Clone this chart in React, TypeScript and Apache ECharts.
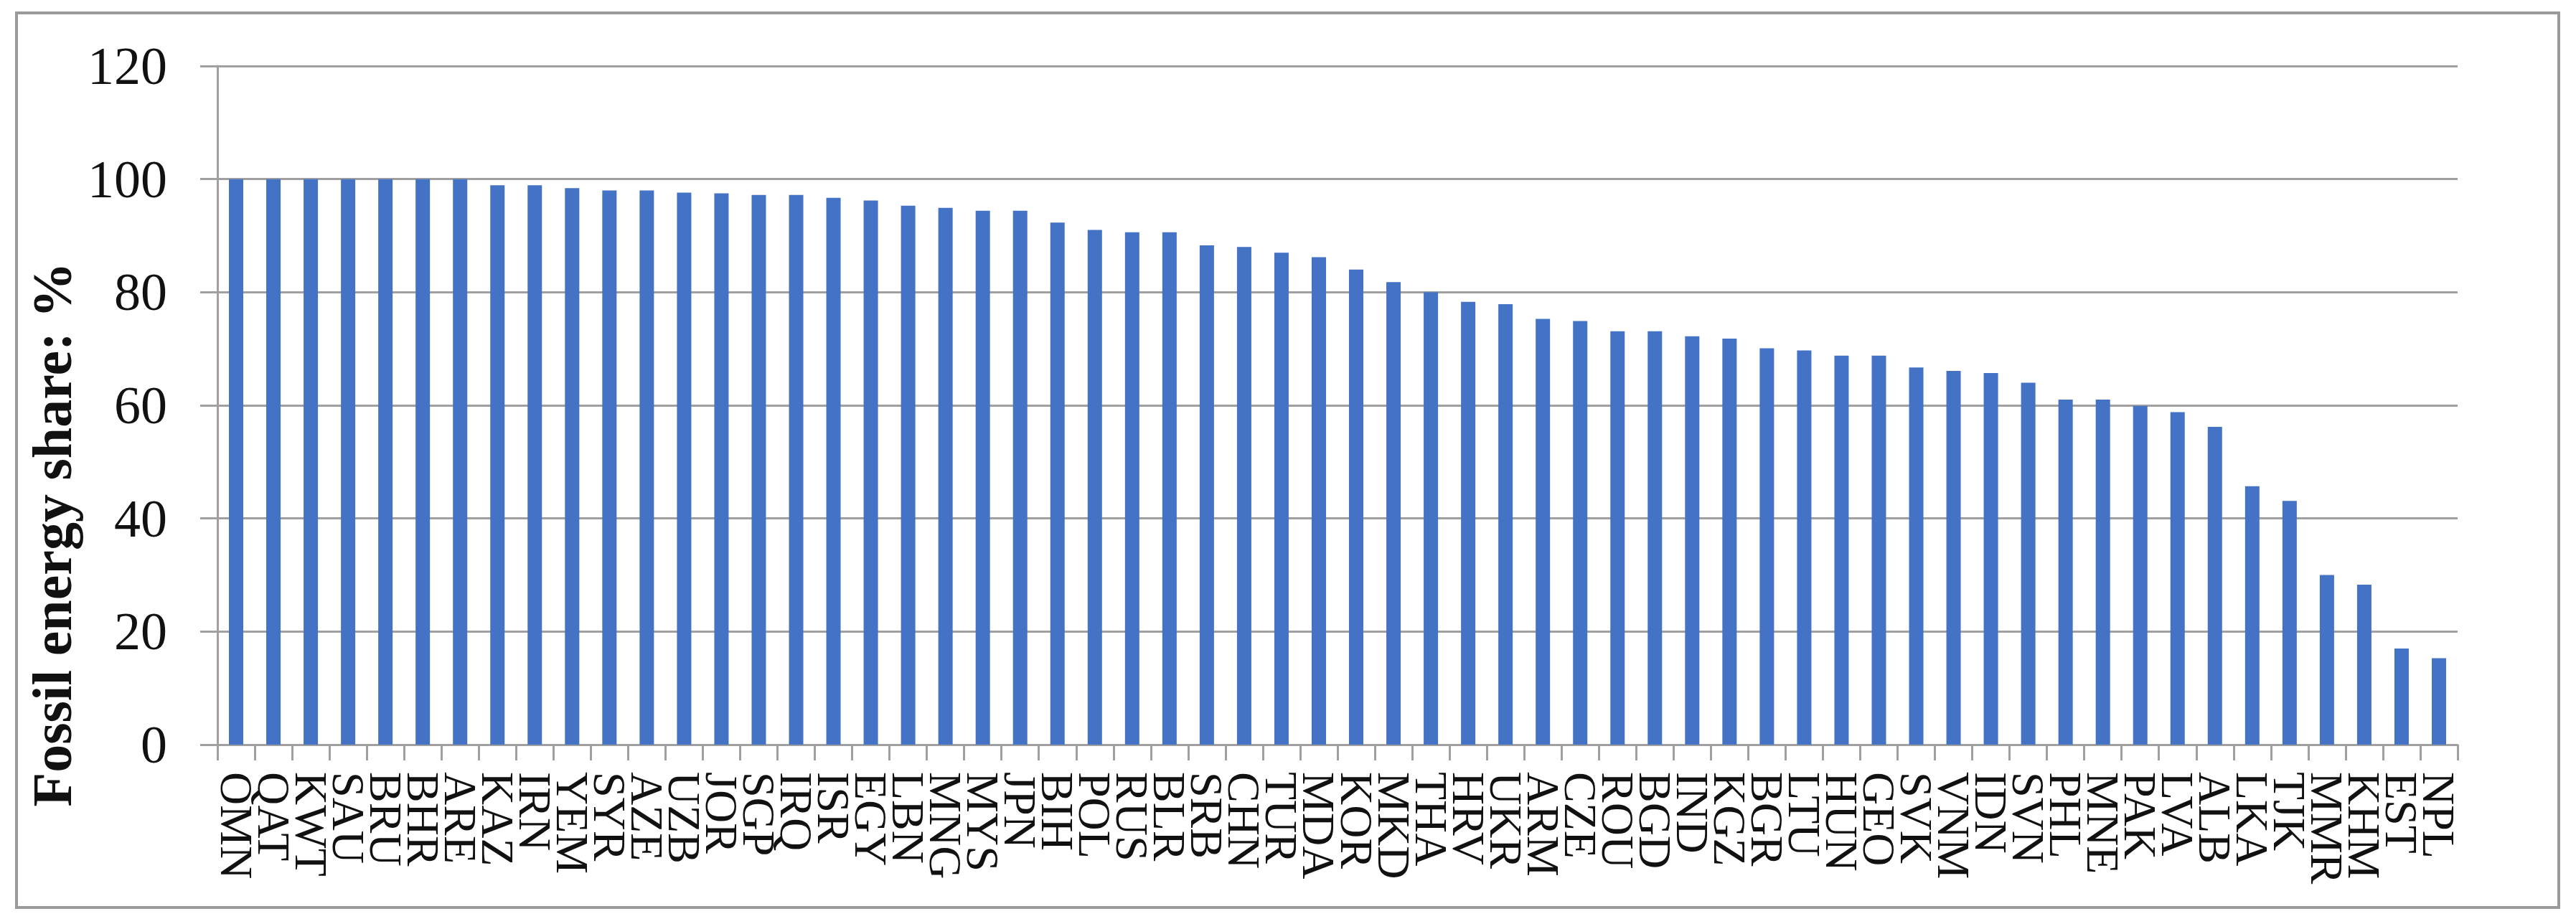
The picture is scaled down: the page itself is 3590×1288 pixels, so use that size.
import React, { useEffect, useRef } from "react";
import * as echarts from "echarts";

const categories = [
  "OMN", "QAT", "KWT", "SAU", "BRU", "BHR", "ARE", "KAZ", "IRN", "YEM",
  "SYR", "AZE", "UZB", "JOR", "SGP", "IRQ", "ISR", "EGY", "LBN", "MNG",
  "MYS", "JPN", "BIH", "POL", "RUS", "BLR", "SRB", "CHN", "TUR", "MDA",
  "KOR", "MKD", "THA", "HRV", "UKR", "ARM", "CZE", "ROU", "BGD", "IND",
  "KGZ", "BGR", "LTU", "HUN", "GEO", "SVK", "VNM", "IDN", "SVN", "PHL",
  "MNE", "PAK", "LVA", "ALB", "LKA", "TJK", "MMR", "KHM", "EST", "NPL",
];

const fossilShare = [
  100, 100, 100, 100, 100, 100, 100, 98.9, 98.9, 98.4,
  98.0, 98.0, 97.6, 97.5, 97.2, 97.2, 96.7, 96.2, 95.3, 94.9,
  94.4, 94.4, 92.3, 91.0, 90.6, 90.6, 88.3, 88.0, 87.0, 86.2,
  84.0, 81.8, 80.0, 78.3, 77.9, 75.3, 74.9, 73.1, 73.1, 72.2,
  71.8, 70.1, 69.7, 68.8, 68.8, 66.7, 66.1, 65.7, 64.0, 61.0,
  61.0, 59.9, 58.8, 56.2, 45.7, 43.1, 30.0, 28.3, 17.0, 15.3,
];

const yTicks = { min: 0, max: 120, interval: 20 };
const yTitle = "Fossil energy share: %";

export default function App() {
  const ref = useRef<HTMLDivElement>(null);

  useEffect(() => {
    document.body.style.margin = "0";
    document.body.style.overflow = "hidden";
    if (!ref.current) return;
    const chart = echarts.init(ref.current, null, { renderer: "svg" });
    const gray = "#a0a0a0";
    const serif = "Liberation Serif";
    chart.setOption({
      animation: false,
      backgroundColor: "#ffffff",
      grid: {
        left: 303,
        right: 165,
        top: 92,
        bottom: 250,
        containLabel: false,
        outerBoundsMode: "none",
      },
      xAxis: {
        type: "category",
        data: categories,
        boundaryGap: true,
        axisLine: { show: true, lineStyle: { color: gray, width: 3 } },
        axisTick: {
          show: true,
          alignWithLabel: false,
          interval: 0,
          length: 22,
          lineStyle: { color: gray, width: 3 },
        },
        axisLabel: {
          interval: 0,
          rotate: -90,
          margin: 38,
          fontSize: 64,
          fontFamily: serif,
          color: "#111111",
        },
        splitLine: { show: false },
      },
      yAxis: {
        type: "value",
        min: yTicks.min,
        max: yTicks.max,
        interval: yTicks.interval,
        axisLine: { show: true, lineStyle: { color: gray, width: 3 } },
        axisTick: {
          show: true,
          inside: false,
          length: 24,
          lineStyle: { color: gray, width: 3 },
        },
        axisLabel: {
          margin: 70,
          fontSize: 74,
          fontFamily: serif,
          color: "#111111",
        },
        splitLine: { show: true, lineStyle: { color: gray, width: 3 } },
      },
      series: [
        {
          type: "bar",
          data: fossilShare,
          barWidth: 20,
          itemStyle: { color: "#4472C4" },
        },
      ],
      graphic: [
        {
          type: "rect",
          z: -1,
          shape: { x: 23, y: 18, width: 3543, height: 1247 },
          style: { fill: "transparent", stroke: "#9a9a9a", lineWidth: 4 },
        },
        {
          type: "text",
          x: 72,
          y: 745,
          rotation: Math.PI / 2,
          style: {
            text: yTitle,
            font: `bold 78px "${serif}"`,
            fill: "#111111",
            align: "center",
            verticalAlign: "middle",
          },
        },
      ],
    });
    return () => chart.dispose();
  }, []);

  return <div ref={ref} style={{ width: 3590, height: 1288 }} />;
}
